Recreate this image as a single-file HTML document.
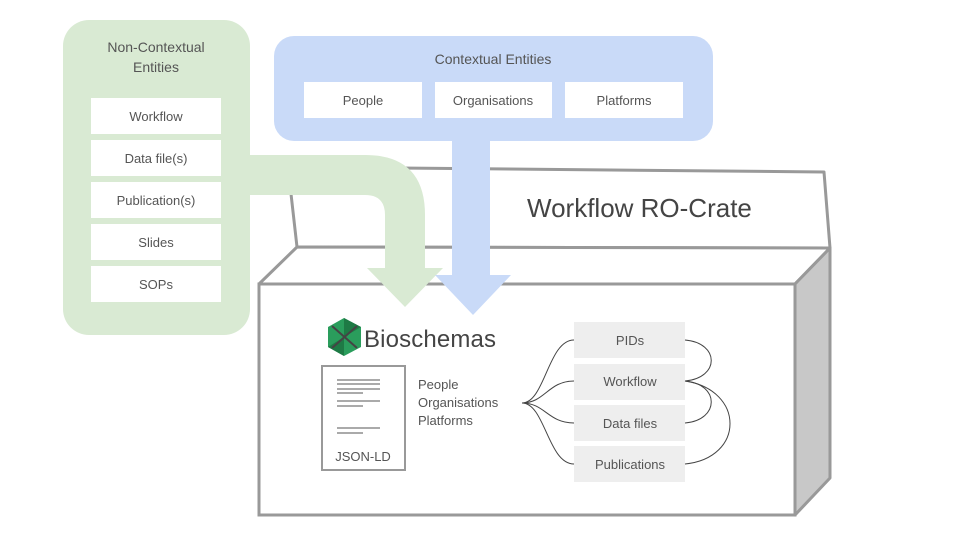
<!DOCTYPE html>
<html><head><meta charset="utf-8"><style>body{margin:0;background:#fff}svg{display:block;font-family:"Liberation Sans",sans-serif}</style></head><body>
<svg width="960" height="540" viewBox="0 0 960 540">
<polygon points="290,185 398,168 824,172 830,248 297,247" fill="#fff" stroke="#999" stroke-width="3" stroke-linejoin="round"/>
<text x="527" y="217" font-size="26" fill="#444">Workflow RO-Crate</text>
<polygon points="259,284 297,247 830,248 795,284" fill="#fff" stroke="#999" stroke-width="3" stroke-linejoin="round"/>
<polygon points="795,284 830,248 830,478 795,515" fill="#c8c8c8" stroke="#999" stroke-width="3" stroke-linejoin="round"/>
<rect x="259" y="284" width="536" height="231" fill="#fff" stroke="#999" stroke-width="3"/>
<rect x="63" y="20" width="187" height="315" rx="26" fill="#d9ead3"/>
<text x="156" y="52" font-size="14" fill="#555" text-anchor="middle">Non-Contextual</text>
<text x="156" y="72" font-size="14" fill="#555" text-anchor="middle">Entities</text>
<g fill="#fff"><rect x="91" y="98" width="130" height="36"/><rect x="91" y="140" width="130" height="36"/><rect x="91" y="182" width="130" height="36"/><rect x="91" y="224" width="130" height="36"/><rect x="91" y="266" width="130" height="36"/></g>
<g font-size="13" fill="#555" text-anchor="middle"><text x="156" y="121">Workflow</text><text x="156" y="163">Data file(s)</text><text x="156" y="205">Publication(s)</text><text x="156" y="247">Slides</text><text x="156" y="289">SOPs</text></g>
<path d="M250,155 L365,155 Q425,155 425,215 L425,268 L443,268 L405,307 L367,268 L385,268 L385,215 Q385,195 365,195 L250,195 Z" fill="#d9ead3"/>
<rect x="274" y="36" width="439" height="105" rx="20" fill="#c9daf8"/>
<text x="493" y="64" font-size="14" fill="#555" text-anchor="middle">Contextual Entities</text>
<g fill="#fff"><rect x="304" y="82" width="118" height="36"/><rect x="435" y="82" width="117" height="36"/><rect x="565" y="82" width="118" height="36"/></g>
<g font-size="13" fill="#555" text-anchor="middle"><text x="363" y="105">People</text><text x="493" y="105">Organisations</text><text x="624" y="105">Platforms</text></g>
<polygon points="452,141 490,141 490,275 511,275 473,315 435,275 452,275" fill="#c9daf8"/>
<polygon points="344,318 361,327 361,347 344,356 328,347 328,327" fill="#2a9d5c"/>
<polygon points="344,337 344,318 361,327" fill="#1e7a45"/><polygon points="344,337 328,347 344,356" fill="#1e7a45"/>
<path d="M332,326 L357,348 M357,326 L332,348" stroke="#444" stroke-width="2"/>
<text x="364" y="347" font-size="24" fill="#444" textLength="132">Bioschemas</text>
<rect x="322" y="366" width="83" height="104" fill="#fff" stroke="#999" stroke-width="2"/>
<g stroke="#555" stroke-width="1"><path d="M337,380H380M337,384H380M337,389H380M337,393H363M337,401H380M337,406H363M337,428H380M337,433H363"/></g>
<text x="363" y="461" font-size="13" fill="#555" text-anchor="middle">JSON-LD</text>
<g font-size="13" fill="#555"><text x="418" y="389">People</text><text x="418" y="407">Organisations</text><text x="418" y="425">Platforms</text></g>
<g fill="#eee"><rect x="574" y="322" width="111" height="36"/><rect x="574" y="364" width="111" height="36"/><rect x="574" y="405" width="111" height="36"/><rect x="574" y="446" width="111" height="36"/></g>
<g font-size="13" fill="#555" text-anchor="middle"><text x="630" y="345">PIDs</text><text x="630" y="386">Workflow</text><text x="630" y="428">Data files</text><text x="630" y="469">Publications</text></g>
<g fill="none" stroke="#444" stroke-width="1">
<path d="M522,403 C545,403 548,340 574,340"/><path d="M522,403 C545,403 548,381 574,381"/><path d="M522,403 C545,403 548,423 574,423"/><path d="M522,403 C545,403 548,464 574,464"/>
<path d="M685,340 C720,343 720,378 685,381"/><path d="M685,381 C720,384 720,420 685,423"/><path d="M685,381 C745,390 745,458 685,464"/>
</g>
</svg>
</body></html>
